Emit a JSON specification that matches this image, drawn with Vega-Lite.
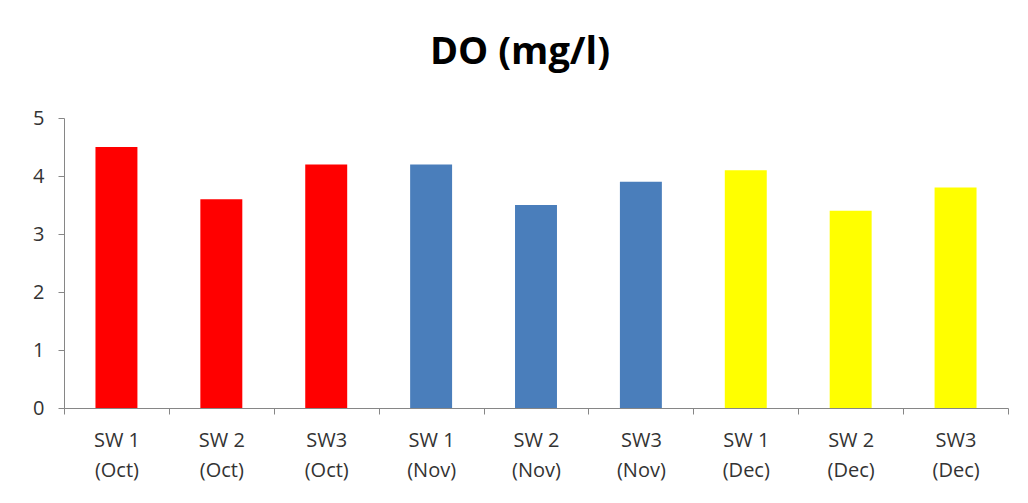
{
  "$schema": "https://vega.github.io/schema/vega-lite/v6.json",
  "autosize": {"type": "none"},
  "width": 944,
  "height": 290,
  "padding": {"left": 64, "top": 118, "right": 20, "bottom": 95},
  "background": "white",
  "title": {"text": "DO (mg/l)", "fontSize": 38, "font": "Open Sans", "fontWeight": "bold", "color": "#000000", "anchor": "middle", "offset": 36, "dx": -16},
  "data": {"values": [
    {"site": "SW 1|(Oct)", "month": "Oct", "do": 4.5},
    {"site": "SW 2|(Oct)", "month": "Oct", "do": 3.6},
    {"site": "SW3|(Oct)", "month": "Oct", "do": 4.2},
    {"site": "SW 1|(Nov)", "month": "Nov", "do": 4.2},
    {"site": "SW 2|(Nov)", "month": "Nov", "do": 3.5},
    {"site": "SW3|(Nov)", "month": "Nov", "do": 3.9},
    {"site": "SW 1|(Dec)", "month": "Dec", "do": 4.1},
    {"site": "SW 2|(Dec)", "month": "Dec", "do": 3.4},
    {"site": "SW3|(Dec)", "month": "Dec", "do": 3.8}
  ]},
  "mark": {"type": "bar", "width": {"band": 0.4}},
  "encoding": {
    "x": {"field": "site", "type": "nominal", "sort": null,
      "scale": {"paddingInner": 0, "paddingOuter": 0},
      "axis": {"title": null, "labelAngle": 0, "labelExpr": "split(datum.label, '|')", "labelFontSize": 20, "labelLineHeight": 30, "labelFont": "Open Sans", "labelColor": "#333333", "labelPadding": 16, "domainColor": "#868686", "tickColor": "#868686", "tickBand": "extent", "tickSize": 6, "ticks": true}},
    "y": {"field": "do", "type": "quantitative",
      "scale": {"domain": [0, 5]},
      "axis": {"title": null, "grid": false, "values": [0, 1, 2, 3, 4, 5], "labelOverlap": false, "labelFlush": false, "labelFontSize": 20, "labelFont": "Open Sans", "labelColor": "#333333", "labelPadding": 14, "domainColor": "#868686", "tickColor": "#868686", "tickSize": 6}},
    "color": {"field": "month", "type": "nominal", "legend": null,
      "scale": {"domain": ["Oct", "Nov", "Dec"], "range": ["#FF0000", "#4A7EBB", "#FFFF00"]}}
  },
  "config": {"view": {"stroke": null}}
}
